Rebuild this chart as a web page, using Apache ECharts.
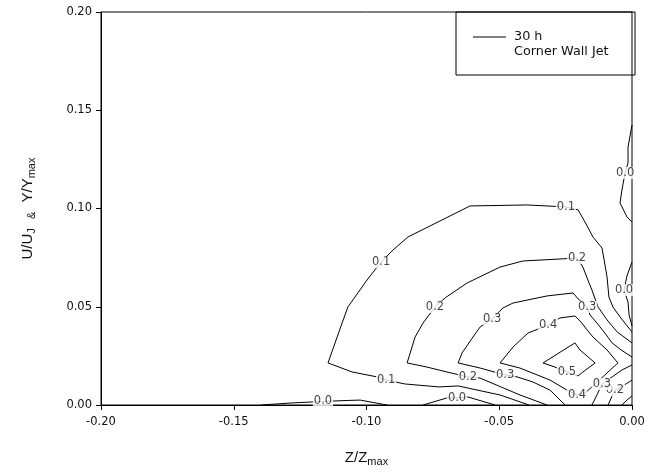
<!DOCTYPE html>
<html>
<head>
<meta charset="utf-8">
<script src="https://cdn.jsdelivr.net/npm/echarts@6/dist/echarts.min.js"></script>
<style>html,body{margin:0;padding:0;background:#fff}#chart{width:660px;height:473px}</style>
</head>
<body>
<div id="chart"></div>
<script>
// Axis ticks
const xTicks = [-0.20, -0.15, -0.10, -0.05, 0.00];
const yTicks = [0.00, 0.05, 0.10, 0.15, 0.20];

// Contour polylines, [Z/Zmax, Y/Ymax]
const c01Main = [[-0.0388,0],[-0.0497,0.0051],[-0.0655,0.0097],[-0.0727,0.0092],[-0.0855,0.0107],[-0.0926,0.0127],[-0.0960,0.0143],[-0.1054,0.0168],[-0.1145,0.0214],[-0.1092,0.0417],[-0.1070,0.0499],[-0.0998,0.0636],[-0.0945,0.0728],[-0.0900,0.0789],[-0.0844,0.0855],[-0.0610,0.1013],[-0.0395,0.1018],[-0.0249,0.1008],[-0.0203,0.0993],[-0.0177,0.0931],[-0.0147,0.0855],[-0.0113,0.0799],[-0.0105,0.0738],[-0.0094,0.0652],[-0.0087,0.0550],[-0.0072,0.0499],[-0.0045,0.0448],[-0.0015,0.0397],[0,0.0372]];
const c01Corner = [[-0.0038,0],[-0.0019,0.0025],[0,0.0046]];
const c02Main = [[-0.0320,0],[-0.0422,0.0051],[-0.0572,0.0137],[-0.0618,0.0143],[-0.0697,0.0168],[-0.0772,0.0193],[-0.0847,0.0214],[-0.0817,0.0346],[-0.0787,0.0417],[-0.0742,0.0499],[-0.0704,0.0545],[-0.0621,0.0621],[-0.0497,0.0702],[-0.0410,0.0733],[-0.0271,0.0743],[-0.0207,0.0748],[-0.0185,0.0702],[-0.0166,0.0636],[-0.0151,0.0585],[-0.0128,0.0499],[-0.0094,0.0433],[-0.0056,0.0372],[-0.0015,0.0331],[0,0.0316]];
const c02Corner = [[-0.0090,0],[-0.0075,0.0046],[-0.0064,0.0076],[-0.0034,0.0097],[0,0.0127]];
const c03Main = [[-0.0252,0],[-0.0309,0.0076],[-0.0373,0.0117],[-0.0433,0.0143],[-0.0478,0.0153],[-0.0572,0.0188],[-0.0655,0.0214],[-0.0640,0.0265],[-0.0599,0.0346],[-0.0572,0.0397],[-0.0527,0.0438],[-0.0486,0.0494],[-0.0448,0.0519],[-0.0320,0.0555],[-0.0222,0.0570],[-0.0203,0.0540],[-0.0169,0.0499],[-0.0158,0.0458],[-0.0132,0.0417],[-0.0102,0.0366],[-0.0075,0.0316],[-0.0041,0.0280],[0,0.0244]];
const c03Corner = [[-0.0151,0],[-0.0132,0.0051],[-0.0113,0.0107],[-0.0075,0.0143],[-0.0038,0.0178],[0,0.0204]];
const c04Loop = [[-0.0497,0.0214],[-0.0448,0.0295],[-0.0392,0.0366],[-0.0316,0.0407],[-0.0271,0.0443],[-0.0215,0.0453],[-0.0192,0.0422],[-0.0169,0.0382],[-0.0147,0.0346],[-0.0094,0.0280],[-0.0053,0.0214],[-0.0094,0.0163],[-0.0151,0.0092],[-0.0177,0.0061],[-0.0207,0.0051],[-0.0245,0.0076],[-0.0309,0.0127],[-0.0422,0.0188],[-0.0497,0.0214]];
const c05Loop = [[-0.0335,0.0214],[-0.0215,0.0316],[-0.0196,0.0280],[-0.0139,0.0214],[-0.0185,0.0168],[-0.0203,0.0148],[-0.0245,0.0168],[-0.0290,0.0193],[-0.0335,0.0214]];
const c00Left = [[-0.1397,0],[-0.1288,0.0010],[-0.1164,0.0018],[-0.1073,0.0023],[-0.1024,0.0025],[-0.0923,0]];
const c00Mid = [[-0.0787,0],[-0.0697,0.0036],[-0.0659,0.0036],[-0.0618,0.0041],[-0.0516,0]];
const c00WallHigh = [[0,0.1425],[-0.0015,0.1313],[-0.0015,0.1232],[-0.0026,0.1181],[-0.0038,0.1094],[-0.0045,0.1028],[-0.0019,0.0957],[0,0.0931]];
const c00WallLow = [[0,0.0728],[-0.0019,0.0657],[-0.0030,0.0585],[-0.0015,0.0524],[-0.0011,0.0458],[0,0.0402]];

// Contour levels and the point index where each level label sits
const contourLevels = ['0.1','0.1','0.2','0.2','0.3','0.3','0.4','0.5','0.0','0.0','0.0','0.0'];
const contourLines = [c01Main, c01Corner, c02Main, c02Corner, c03Main, c03Corner, c04Loop, c05Loop, c00Left, c00Mid, c00WallHigh, c00WallLow];
const labelIndex = [[5,12,17], [], [3,9,15], [2], [4,10,16], [2], [3,14], [6], [2], [2], [3], [2]];

const legendText = ['30 h', 'Corner Wall Jet'];

const font = 'DejaVu Sans, Liberation Sans, Arial, sans-serif';
const fontA = 'Liberation Sans, Arial, Helvetica, sans-serif';

const series = contourLines.map((pts) => ({
  type: 'line',
  data: pts,
  showSymbol: false,
  symbol: 'none',
  lineStyle: { color: '#000', width: 1 },
  silent: true,
  z: 2
}));

const labelData = [];
contourLines.forEach((pts, i) => {
  labelIndex[i].forEach((k) => {
    labelData.push({ name: contourLevels[i], value: pts[k] });
  });
});

series.push({
  type: 'scatter',
  data: labelData,
  symbol: 'circle',
  symbolSize: 2,
  itemStyle: { color: 'rgba(255,255,255,0)' },
  silent: true,
  z: 5,
  labelLayout: { hideOverlap: false },
  label: {
    show: true,
    position: 'inside',
    formatter: (p) => p.name,
    color: '#111',
    fontFamily: font,
    fontSize: 11.5,
    backgroundColor: '#fff',
    padding: [0, 1, 0, 1]
  }
});

const chart = echarts.init(document.getElementById('chart'), null, { renderer: 'canvas' });
chart.setOption({
  animation: false,
  backgroundColor: '#fff',
  grid: { left: 101, right: 28, top: 12, bottom: 68, show: true, borderColor: '#000', borderWidth: 1, backgroundColor: 'transparent' },
  xAxis: {
    type: 'value',
    min: xTicks[0], max: xTicks[xTicks.length - 1], interval: 0.05,
    axisLine: { show: true, onZero: false, lineStyle: { color: '#000', width: 1 } },
    axisTick: { show: true, length: 5, lineStyle: { color: '#000' } },
    splitLine: { show: false },
    axisLabel: { margin: 11, color: '#111', fontFamily: font, fontSize: 11.5, formatter: (v) => v.toFixed(2) },
    name: '{a|Z/Z}{b|max}',
    nameLocation: 'middle',
    nameGap: 44,
    nameTextStyle: {
      rich: {
        a: { fontFamily: fontA, fontSize: 15, color: '#111', lineHeight: 18, verticalAlign: 'middle' },
        b: { fontFamily: fontA, fontSize: 11, color: '#111', lineHeight: 11, padding: [8, 0, 0, 0], verticalAlign: 'bottom' }
      }
    }
  },
  yAxis: {
    type: 'value',
    min: yTicks[0], max: yTicks[yTicks.length - 1], interval: 0.05,
    axisLine: { show: true, onZero: false, lineStyle: { color: '#000', width: 1 } },
    axisTick: { show: true, length: 5, lineStyle: { color: '#000' } },
    splitLine: { show: false },
    axisLabel: { margin: 9, color: '#111', fontFamily: font, fontSize: 11.5, formatter: (v) => v.toFixed(2) },
    name: '{a|U/U}{b|J}{b|   &   }{a|Y/Y}{b|max}',
    nameLocation: 'middle',
    nameRotate: 90,
    nameGap: 64,
    nameTextStyle: {
      rich: {
        a: { fontFamily: fontA, fontSize: 15, color: '#111', lineHeight: 18, verticalAlign: 'middle' },
        b: { fontFamily: fontA, fontSize: 11, color: '#111', lineHeight: 11, padding: [8, 0, 0, 0], verticalAlign: 'bottom' }
      }
    }
  },
  graphic: [
    { type: 'rect', z: 10, shape: { x: 456, y: 12, width: 179, height: 63 }, style: { fill: 'rgba(0,0,0,0)', stroke: '#000', lineWidth: 1 } },
    { type: 'line', z: 10, shape: { x1: 473, y1: 37, x2: 506, y2: 37 }, style: { stroke: '#000', lineWidth: 1 } },
    { type: 'text', z: 10, x: 514, y: 37, style: { text: legendText[0], fill: '#111', font: '12.8px ' + font, textVerticalAlign: 'middle', verticalAlign: 'middle' } },
    { type: 'text', z: 10, x: 514, y: 52, style: { text: legendText[1], fill: '#111', font: '12.8px ' + font, textVerticalAlign: 'middle', verticalAlign: 'middle' } }
  ],
  series: series
});
</script>
</body>
</html>
